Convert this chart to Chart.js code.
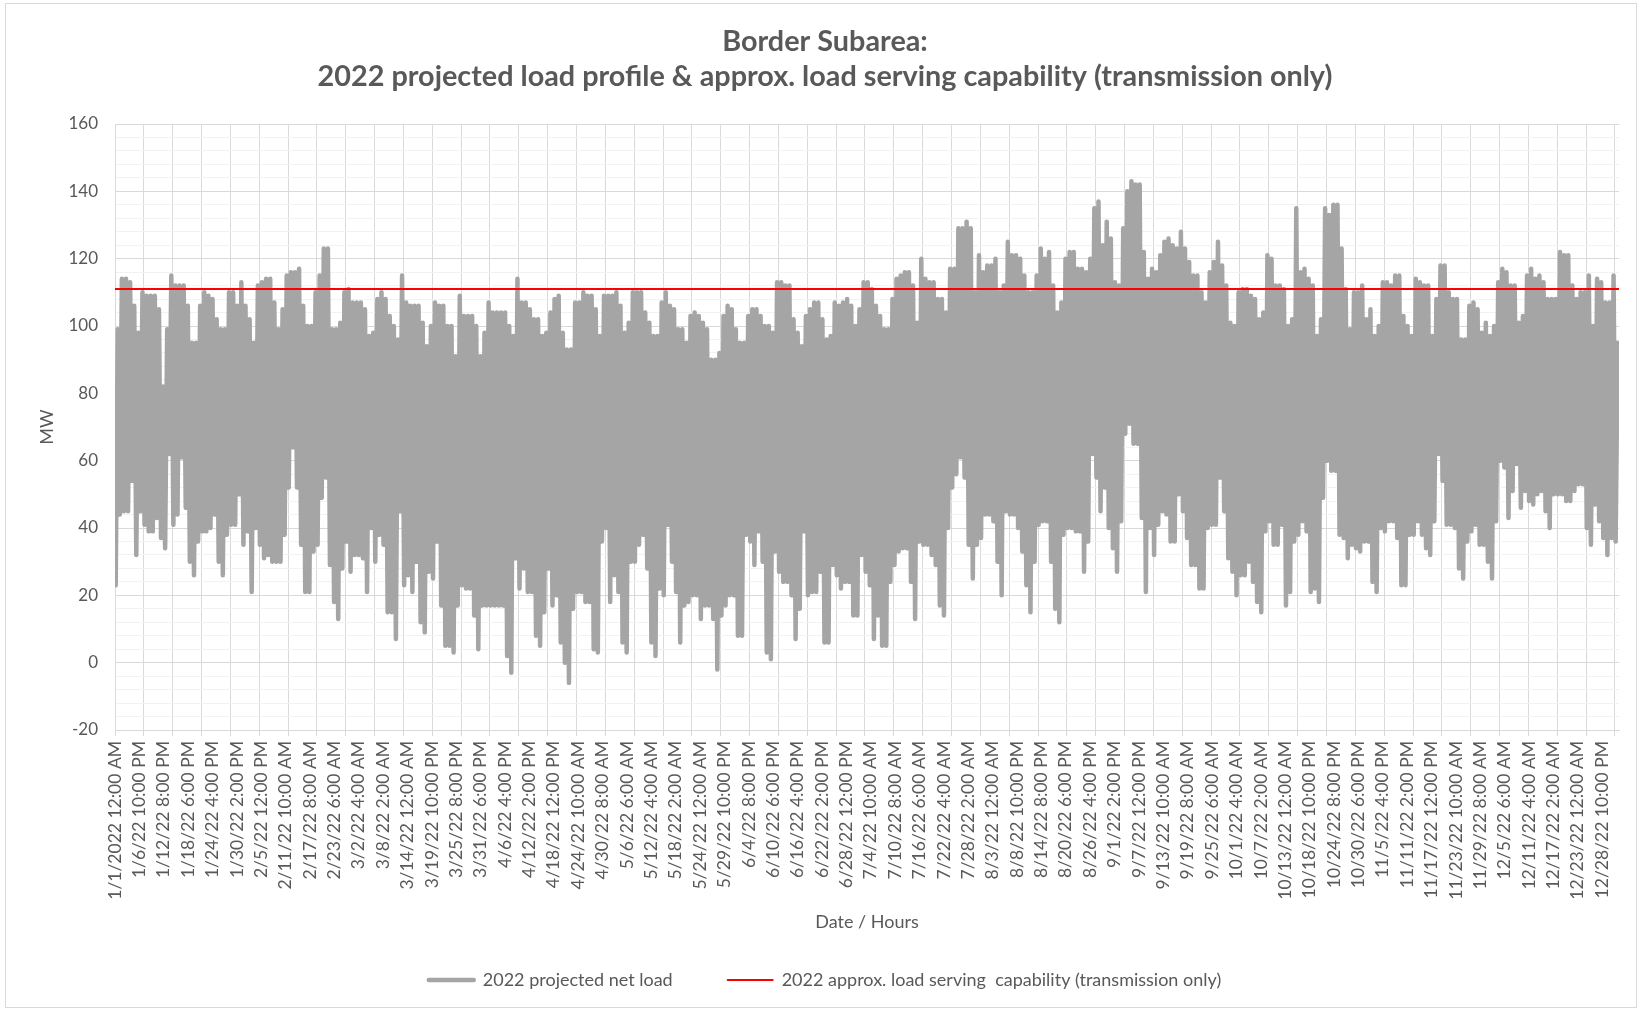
<!DOCTYPE html>
<html>
<head>
<meta charset="utf-8">
<script src="https://cdn.jsdelivr.net/npm/chart.js"></script>
<style>
  html, body { margin: 0; padding: 0; background: #fff; }
  #frame { position: absolute; left: 5px; top: 3px; width: 1630px; height: 1003px; border: 1px solid #d9d9d9; }
  #loadChart { position: absolute; left: 0; top: 0; }
</style>
</head>
<body>
<div id="frame"></div>
<canvas id="loadChart" width="1641" height="1010"></canvas>
<script>
const hoursInYear = 8760;
const labelStepHours = 142;   // one date label every 142 hours
const gridStepHours = 168;    // vertical grid lines are weekly
const capabilityMW = 111;
const firstHourLoad = 77;
const lastHourLoad = 88;

const dailyPeak = [
  99,114,114,113,106,98,110,109,109,109,
  105,82,99,115,112,112,112,106,95,95,
  106,110,109,108,102,99,99,110,110,106,
  113,106,102,95,112,113,114,114,107,99,
  105,115,116,116,117,106,100,100,110,115,
  123,123,99,99,101,110,111,107,107,107,
  105,97,98,108,110,108,103,100,96,115,
  107,106,106,106,101,94,100,107,106,106,
  100,100,91,109,103,103,103,100,91,98,
  107,104,104,104,104,100,97,114,107,107,
  105,102,102,97,98,104,108,109,98,93,
  93,107,107,110,109,109,105,97,109,109,
  109,110,106,98,101,110,110,110,104,101,
  97,97,107,110,106,105,99,99,95,103,
  104,103,101,99,90,90,92,103,106,105,
  99,95,95,103,105,105,103,100,100,98,
  113,113,112,112,102,98,94,103,105,107,
  107,102,96,97,107,106,107,108,106,100,
  105,113,113,111,106,103,99,99,108,114,
  115,116,116,112,101,120,114,113,113,108,
  108,104,117,117,129,129,131,129,110,121,
  116,118,118,120,110,112,125,121,121,120,
  115,110,110,115,123,120,122,112,104,107,
  120,122,122,117,117,116,120,135,137,124,
  131,126,113,112,129,140,143,142,142,122,
  114,117,116,121,125,126,124,123,128,123,
  119,115,115,110,107,116,119,125,118,112,
  101,100,110,111,111,109,108,102,104,121,
  120,112,112,111,100,102,135,116,117,114,
  112,97,102,135,133,136,136,123,111,99,
  110,110,112,102,105,97,100,113,113,112,
  115,115,103,100,97,114,113,112,112,97,
  108,118,118,110,108,108,96,96,106,107,
  105,98,101,97,100,113,117,116,112,112,
  101,103,115,117,114,115,113,108,108,108,
  122,121,121,112,108,110,110,115,100,114,
  113,107,107,115,95
];

const dailyLow = [
  23,44,45,45,54,32,45,41,39,39,
  43,37,34,62,41,44,61,46,30,26,
  36,39,39,40,44,30,26,38,41,41,
  50,35,39,21,40,35,31,32,30,30,
  30,38,52,64,52,35,21,21,33,35,
  49,55,29,18,13,28,36,27,32,32,
  31,21,40,30,38,35,15,15,7,45,
  23,26,21,30,12,9,27,25,36,17,
  5,5,3,17,23,22,22,14,4,17,
  17,17,17,17,17,2,-3,31,22,28,
  21,21,8,5,15,28,17,20,6,0,
  -6,16,21,21,18,18,4,3,36,40,
  18,26,21,6,3,30,30,35,38,28,
  6,2,22,20,41,30,21,6,17,18,
  20,20,13,17,17,13,-2,14,17,20,
  20,8,8,38,36,29,39,30,3,1,
  33,27,24,24,20,7,16,39,20,21,
  21,27,6,6,29,26,22,24,24,14,
  14,32,27,23,7,14,5,5,24,29,
  33,34,34,24,13,36,35,35,32,29,
  17,14,40,52,56,61,55,35,25,35,
  37,44,44,42,30,20,45,44,44,40,
  33,23,15,30,41,42,42,30,16,12,
  38,40,40,39,39,27,36,62,55,45,
  52,40,34,27,42,68,71,65,65,43,
  21,40,32,41,45,44,36,36,50,45,
  37,29,29,22,22,40,41,41,55,45,
  31,27,20,26,26,30,24,18,15,39,
  42,35,35,41,17,21,36,38,42,39,
  21,22,18,49,60,57,57,38,37,31,
  35,34,33,36,36,24,21,40,39,42,
  42,37,23,23,38,38,42,38,34,32,
  42,62,54,41,41,40,28,25,36,39,
  41,35,35,30,25,42,60,58,43,51,
  59,46,51,48,47,50,51,45,40,50,
  50,50,48,48,51,53,53,40,35,47,
  42,37,32,37,36
];

const xTickLabels = [
  '1/1/2022 12:00 AM', '1/6/22 10:00 PM', '1/12/22 8:00 PM', '1/18/22 6:00 PM', '1/24/22 4:00 PM',
  '1/30/22 2:00 PM', '2/5/22 12:00 PM', '2/11/22 10:00 AM', '2/17/22 8:00 AM', '2/23/22 6:00 AM',
  '3/2/22 4:00 AM', '3/8/22 2:00 AM', '3/14/22 12:00 AM', '3/19/22 10:00 PM', '3/25/22 8:00 PM',
  '3/31/22 6:00 PM', '4/6/22 4:00 PM', '4/12/22 2:00 PM', '4/18/22 12:00 PM', '4/24/22 10:00 AM',
  '4/30/22 8:00 AM', '5/6/22 6:00 AM', '5/12/22 4:00 AM', '5/18/22 2:00 AM', '5/24/22 12:00 AM',
  '5/29/22 10:00 PM', '6/4/22 8:00 PM', '6/10/22 6:00 PM', '6/16/22 4:00 PM', '6/22/22 2:00 PM',
  '6/28/22 12:00 PM', '7/4/22 10:00 AM', '7/10/22 8:00 AM', '7/16/22 6:00 AM', '7/22/22 4:00 AM',
  '7/28/22 2:00 AM', '8/3/22 12:00 AM', '8/8/22 10:00 PM', '8/14/22 8:00 PM', '8/20/22 6:00 PM',
  '8/26/22 4:00 PM', '9/1/22 2:00 PM', '9/7/22 12:00 PM', '9/13/22 10:00 AM', '9/19/22 8:00 AM',
  '9/25/22 6:00 AM', '10/1/22 4:00 AM', '10/7/22 2:00 AM', '10/13/22 12:00 AM', '10/18/22 10:00 PM',
  '10/24/22 8:00 PM', '10/30/22 6:00 PM', '11/5/22 4:00 PM', '11/11/22 2:00 PM', '11/17/22 12:00 PM',
  '11/23/22 10:00 AM', '11/29/22 8:00 AM', '12/5/22 6:00 AM', '12/11/22 4:00 AM', '12/17/22 2:00 AM',
  '12/23/22 12:00 AM', '12/28/22 10:00 PM'
];

// low in the early morning, peak in the afternoon
const loadPoints = [{ x: 0, y: firstHourLoad }];
dailyPeak.forEach(function (peak, d) {
    loadPoints.push({ x: d * 24 + 4, y: dailyLow[d] });
    loadPoints.push({ x: d * 24 + 16, y: peak });
});
loadPoints.push({ x: hoursInYear - 1, y: lastHourLoad });

const labelTicks = xTickLabels.map(function (_, i) { return i * labelStepHours; });
const gridTicks = [];
for (let h = 0; h <= hoursInYear; h += gridStepHours) gridTicks.push(h);
const allTicks = Array.from(new Set(labelTicks.concat(gridTicks))).sort(function (a, b) { return a - b; });

Chart.defaults.font.family = 'Lato, "Open Sans", sans-serif';
Chart.defaults.color = '#595959';

const grey = '#a5a5a5';
const red = '#ff0000';

new Chart(document.getElementById('loadChart'), {
    type: 'line',
    data: {
        datasets: [{
            label: '2022 projected net load',
            data: loadPoints,
            borderColor: grey,
            backgroundColor: grey,
            borderWidth: 4.5,
            borderJoinStyle: 'round',
            borderCapStyle: 'round',
            pointRadius: 0,
            tension: 0,
            order: 1
        }, {
            label: '2022 approx. load serving  capability (transmission only)',
            data: [{ x: 0, y: capabilityMW }, { x: hoursInYear, y: capabilityMW }],
            borderColor: red,
            backgroundColor: red,
            borderWidth: 2,
            pointRadius: 0,
            order: 0
        }]
    },
    options: {
        responsive: false,
        animation: false,
        devicePixelRatio: 1,
        events: [],
        parsing: false,
        normalized: true,
        layout: { padding: { left: 30, right: 21, top: 0, bottom: 11 } },
        plugins: {
            tooltip: { enabled: false },
            title: {
                display: true,
                text: ['Border Subarea:', '2022 projected load profile & approx. load serving capability (transmission only)'],
                color: '#595959',
                font: { size: 28.8, weight: 'bold', lineHeight: '35px' },
                padding: { top: 24.5, bottom: 29.5 }
            },
            legend: {
                position: 'bottom',
                labels: {
                    usePointStyle: true,
                    pointStyleWidth: 45,
                    padding: 55,
                    color: '#595959',
                    font: { size: 18 },
                    generateLabels: function (chart) {
                        return chart.data.datasets.map(function (ds, i) {
                            return {
                                text: ds.label,
                                datasetIndex: i,
                                fillStyle: ds.borderColor,
                                strokeStyle: ds.borderColor,
                                lineWidth: ds.borderWidth,
                                lineCap: 'round',
                                pointStyle: 'line',
                                hidden: false,
                                fontColor: '#595959'
                            };
                        });
                    }
                }
            }
        },
        scales: {
            x: {
                type: 'linear',
                min: 0,
                max: hoursInYear,
                afterBuildTicks: function (axis) {
                    axis.ticks = allTicks.map(function (v) { return { value: v }; });
                },
                afterFit: function (axis) { axis.height = 186; },
                ticks: {
                    autoSkip: false,
                    minRotation: 90,
                    maxRotation: 90,
                    padding: 5,
                    color: '#595959',
                    font: { size: 17.5 },
                    callback: function (v) {
                        const i = labelTicks.indexOf(v);
                        return i < 0 ? '' : xTickLabels[i];
                    }
                },
                grid: {
                    color: function (c) {
                        return (c.tick && c.tick.value % gridStepHours === 0) ? '#d9d9d9' : 'rgba(0,0,0,0)';
                    },
                    tickLength: 6
                },
                border: { color: '#d9d9d9' },
                title: {
                    display: true,
                    text: 'Date / Hours',
                    color: '#595959',
                    font: { size: 18 },
                    padding: { top: 0, bottom: -16.8 }
                }
            },
            y: {
                min: -20,
                max: 160,
                afterFit: function (axis) { axis.width = 85; },
                ticks: {
                    stepSize: 4,
                    autoSkip: false,
                    padding: 17,
                    color: '#595959',
                    font: { size: 17 },
                    callback: function (v) { return v % 20 === 0 ? v : ''; }
                },
                grid: {
                    drawTicks: false,
                    color: function (c) {
                        return (c.tick && c.tick.value % 20 === 0) ? '#d9d9d9' : '#f2f2f2';
                    }
                },
                border: { color: '#d9d9d9' },
                title: {
                    display: true,
                    text: 'MW',
                    color: '#595959',
                    font: { size: 18 },
                    padding: { top: 6, bottom: 0 }
                }
            }
        }
    }
});
</script>
</body>
</html>
